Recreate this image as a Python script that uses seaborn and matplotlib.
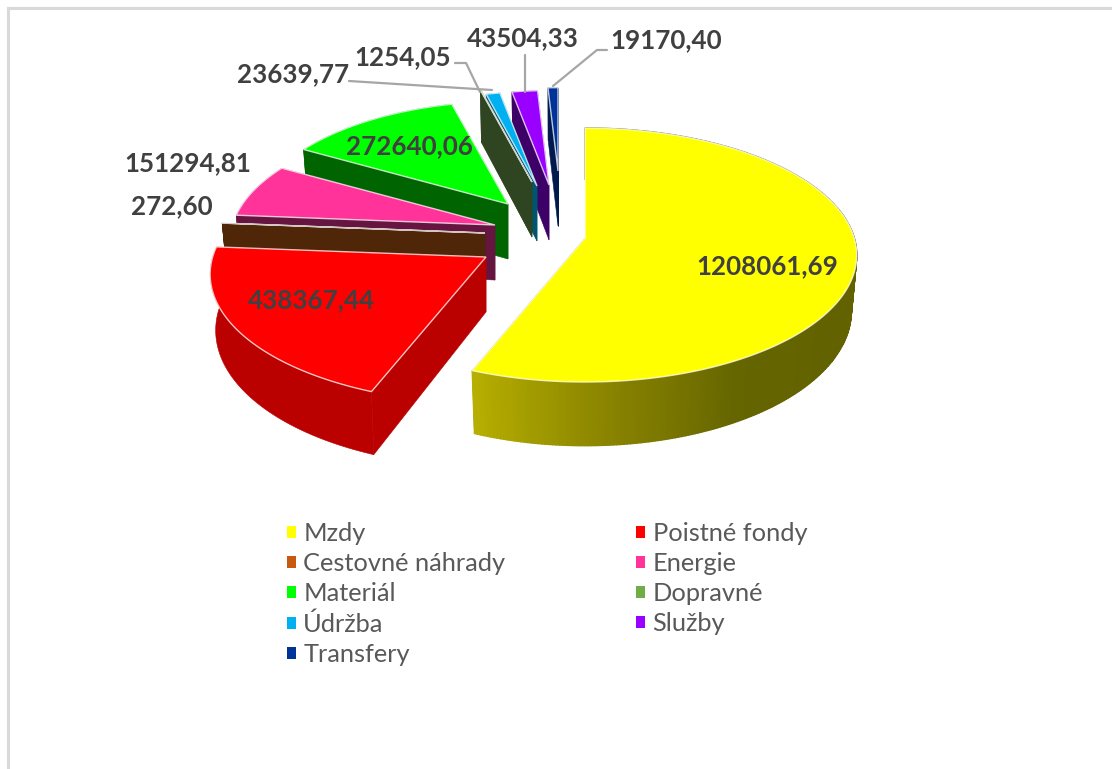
import numpy as np
import matplotlib
matplotlib.use("Agg")
import matplotlib.pyplot as plt
from matplotlib.colors import LinearSegmentedColormap
from matplotlib.patches import Polygon, Patch
import seaborn as sns

# ---------- data ----------
categories = ["Mzdy", "Poistné fondy", "Cestovné náhrady", "Energie", "Materiál",
              "Dopravné", "Údržba", "Služby", "Transfery"]
values = [1208061.69, 438367.44, 272.60, 151294.81, 272640.06,
          1254.05, 23639.77, 43504.33, 19170.40]
value_labels = ["1208061,69", "438367,44", "272,60", "151294,81", "272640,06",
                "1254,05", "23639,77", "43504,33", "19170,40"]

# ---------- style ----------
top_colors = ["#FFFF00", "#FF0000", "#C55A11", "#FF3399", "#00FF00",
              "#70AD47", "#00B0F0", "#9900FF", "#003399"]
wall_colors = ["#666600", "#BB0000", "#4F2607", "#661541", "#006400",
               "#2F4420", "#005570", "#3D0066", "#001A4D"]
# exploded apex of each wedge and its radius scale (layout, in pixels)
apex_x = [585, 486, 485, 495, 508, 532, 537, 549, 558]
apex_y = [238, 257, 233, 225, 204, 182, 186, 185, 171]
radius_scale = [0.99, 1.005, 0.98, 0.965, 0.925, 0.85, 0.85, 0.85, 0.75]
label_x = [767, 311, 172, 188, 409, 403, 293, 523, 666]
label_y = [266, 300, 206, 163, 146, 57, 74, 38, 40]

A, B, P = 272.0, 126.0, 0.134   # ellipse half axes and perspective
DEPTH = 55.0

sns.set_theme(style="white")
plt.rcParams["font.family"] = ["Lato", "DejaVu Sans"]

fig = plt.figure(figsize=(11.12, 7.69), dpi=100)
ax = fig.add_axes([0, 0, 1, 1])
ax.set_xlim(0, 1112)
ax.set_ylim(769, 0)
ax.axis("off")

# chart frame
ax.plot([7.5, 7.5, 1112], [769, 7.5, 7.5], color="#D9D9D9", lw=2.2, solid_joinstyle="miter")


def project(theta, scale):
    """Top-face offset from the apex for a rim angle (degrees)."""
    X, Y = np.cos(np.radians(theta)), np.sin(np.radians(theta))
    w = 1 + P * Y
    return scale * A * X / w, -scale * B * Y / w


def lower(dx, dy):
    return dx * 0.98, dy * (1.06 if dy > 0 else 1.03) + DEPTH


def wedge(i, a1, a2):
    cx, cy = apex_x[i], apex_y[i]
    s = radius_scale[i]
    thetas = np.linspace(a1, a2, max(3, int(abs(a2 - a1) * 1.5)))
    rim = np.array([project(t, s) for t in thetas])
    low = np.array([lower(*p) for p in rim])
    ap_low = lower(0, 0)
    wall = wall_colors[i]

    # radial walls
    for p, q in ((rim[0], low[0]), (rim[-1], low[-1])):
        ax.add_patch(Polygon([(cx, cy), (cx + p[0], cy + p[1]), (cx + q[0], cy + q[1]),
                              (cx + ap_low[0], cy + ap_low[1])],
                             closed=True, fc=wall, ec=wall, lw=0.4, zorder=3))

    # outer wall: a gradient for the largest wedge, one flat band for the others
    if i == 0:
        cmap = LinearSegmentedColormap.from_list("w", ["#B8B000", "#8A8400", "#666600", "#626200"])
        for k in np.argsort(-np.sin(np.radians(thetas[:-1]))):
            t = (thetas[k] - a2) / (a1 - a2)
            col = cmap(min(t / 0.38, 1.0))
            quad = [(cx + rim[k][0], cy + rim[k][1]), (cx + rim[k + 1][0], cy + rim[k + 1][1]),
                    (cx + low[k + 1][0], cy + low[k + 1][1]), (cx + low[k][0], cy + low[k][1])]
            ax.add_patch(Polygon(quad, closed=True, fc=col, ec=col, lw=1.0, zorder=3))
    else:
        band = [(cx + p[0], cy + p[1]) for p in rim] + [(cx + q[0], cy + q[1]) for q in low[::-1]]
        ax.add_patch(Polygon(band, closed=True, fc=wall, ec=wall, lw=0.4, zorder=3))

    # top face with its light edge
    ax.add_patch(Polygon([(cx, cy)] + [(cx + p[0], cy + p[1]) for p in rim], closed=True,
                         fc=top_colors[i], ec=(1, 1, 1, 0.75), lw=1.0, zorder=3))


# wedge angles from the values, clockwise from the top
shares = np.array(values) / np.sum(values)
ends = 90 - 360 * np.cumsum(shares)
starts = np.r_[90, ends[:-1]]

for i in range(len(values) - 1, -1, -1):
    wedge(i, starts[i], ends[i])

# leader lines
leader_color = "#A6A6A6"
ax.plot([349, 492], [81, 90], color=leader_color, lw=1.6, zorder=5)
ax.plot([455, 466, 480], [63, 63, 92], color=leader_color, lw=1.6, zorder=5)
ax.plot([525, 525], [55, 92], color=leader_color, lw=1.6, zorder=5)
ax.plot([607, 597, 553], [50, 50, 86], color=leader_color, lw=1.6, zorder=5)

# data labels
for x, y, t in zip(label_x, label_y, value_labels):
    ax.text(x, y, t, ha="center", va="center", fontsize=18.7, fontweight="bold",
            color="#404040", zorder=6)

# legend, filled row by row as in the original
row_order = [0, 2, 4, 6, 8, 1, 3, 5, 7]
handles = [Patch(fc=top_colors[i], ec="none", label=categories[i]) for i in row_order]
leg = ax.legend(handles=handles, ncol=2, frameon=False, loc="upper left",
                bbox_to_anchor=(287, 522), bbox_transform=ax.transData,
                fontsize=18.3, labelcolor="#595959", handlelength=0.36, handleheight=0.36,
                handletextpad=0.28, columnspacing=5.15, labelspacing=0.28, borderpad=0,
                borderaxespad=0)

fig.savefig("out.png", dpi=100, facecolor="white")
